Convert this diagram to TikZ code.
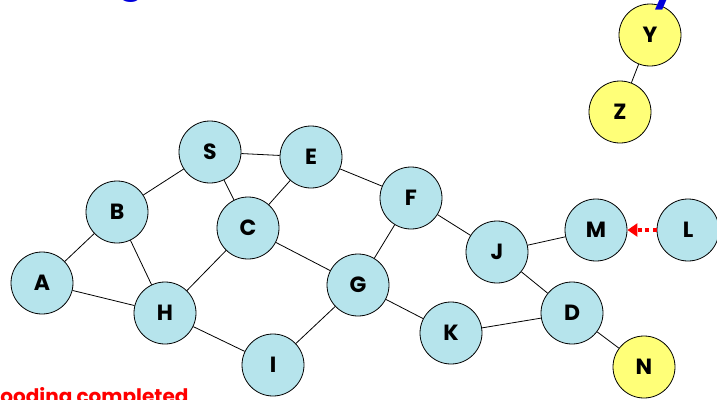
\documentclass[tikz,border=0pt]{standalone}
\usepackage{fontspec}
\setmainfont{Poppins}[BoldFont={Poppins Bold}]
\usetikzlibrary{positioning}
\usetikzlibrary{arrows.meta}
\definecolor{bubble}{RGB}{182,228,236}
\definecolor{lemon}{RGB}{255,255,120}
\definecolor{titleblue}{RGB}{0,0,220}
\begin{document}
\begin{tikzpicture}[x=1pt,y=-1pt,
        roundnode/.style={circle, draw=black, fill=bubble, line width=0.8pt, minimum size=62pt, inner sep=0pt, font=\bfseries\fontsize{22}{22}\selectfont},
        donenode/.style={roundnode, fill=lemon},
        link/.style={line width=0.8pt, black},
    ]
    \useasboundingbox (0,0) rectangle (717,399);

    % Objects
    \node[roundnode] (A) at (42,283) {A};
    \node[roundnode] (B) at (117,212) {B};
    \node[roundnode] (S) at (210,152) {S};
    \node[roundnode] (E) at (311,157) {E};
    \node[roundnode] (C) at (248,228) {C};
    \node[roundnode] (F) at (411,198) {F};
    \node[roundnode] (H) at (165,313) {H};
    \node[roundnode] (G) at (358,285) {G};
    \node[roundnode] (I) at (273,365) {I};
    \node[roundnode] (J) at (497,252) {J};
    \node[roundnode] (K) at (451,333) {K};
    \node[roundnode] (M) at (596,230) {M};
    \node[roundnode] (L) at (688,230) {L};
    \node[roundnode] (D) at (572,313) {D};
    \node[donenode] (N) at (644,367) {N};
    \node[donenode] (Y) at (650,35) {Y};
    \node[donenode] (Z) at (620,112) {Z};

    % Lines
    \draw[link] (A) -- (B);
    \draw[link] (A) -- (H);
    \draw[link] (B) -- (S);
    \draw[link] (B) -- (H);
    \draw[link] (S) -- (E);
    \draw[link] (S) -- (C);
    \draw[link] (E) -- (C);
    \draw[link] (E) -- (F);
    \draw[link] (C) -- (H);
    \draw[link] (C) -- (G);
    \draw[link] (H) -- (I);
    \draw[link] (I) -- (G);
    \draw[link] (G) -- (F);
    \draw[link] (G) -- (K);
    \draw[link] (F) -- (J);
    \draw[link] (J) -- (M);
    \draw[link] (J) -- (D);
    \draw[link] (K) -- (D);
    \draw[link] (D) -- (N);
    \draw[link] (Y) -- (Z);
    \draw[red, line width=3.5pt, dash pattern=on 4pt off 3.5pt, -{Triangle[length=10pt,width=13pt]}] (L) -- (M);

    % Text
    \node[anchor=base east, text=red, font=\bfseries\fontsize{20}{20}\selectfont] (status) at (192,403) {Flooding completed};
    \node[anchor=base, text=titleblue, font=\bfseries\fontsize{40}{40}\selectfont] (titleG) at (131,-9) {g};
    \node[anchor=base, text=titleblue, font=\bfseries\fontsize{40}{40}\selectfont] (titleY) at (664,-1) {y};

\end{tikzpicture}
\end{document}
